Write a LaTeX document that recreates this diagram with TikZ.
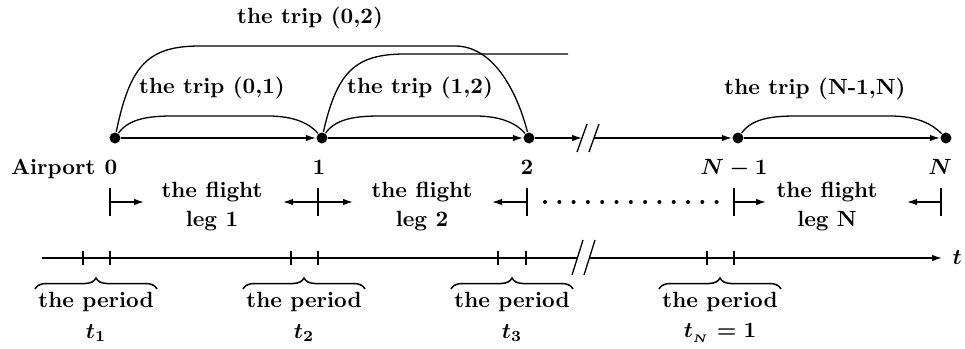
\documentclass[tikz,border=0pt]{standalone}
\usetikzlibrary{decorations.pathreplacing,arrows.meta,calc}
\newcommand{\Tx}[1]{\scalebox{2.2}{\fontsize{10}{13}\selectfont\bfseries\boldmath #1}}
\newcommand{\Tw}[1]{\scalebox{2.2}{\fontsize{10}{13}\selectfont\bfseries\boldmath\begin{tabular}{@{}c@{}}#1\end{tabular}}}
\begin{document}
\begin{tikzpicture}[x=1pt,y=-1pt,
  lbl/.style={inner sep=0pt},
  dotn/.style={circle, fill, inner sep=0pt, minimum size=11pt},
  tip/.style={-{Latex[length=10pt,width=6.5pt]}},
  every path/.style={line width=1.3pt},
  brc/.style={decorate, decoration={brace, amplitude=11pt}, line width=1.5pt},
  tick/.style={line width=1.1pt}]
\useasboundingbox (0,0) rectangle (965,348);
% upper dots
\node[dotn] (d0) at (115,138) {};
\node[dotn] (d1) at (322,138) {};
\node[dotn] (d2) at (529,138) {};
\node[dotn] (dn1) at (738,138) {};
\node[dotn] (dn) at (946,138) {};
\coordinate (ub1) at (582,138);
\coordinate (ub2) at (594,138);
% upper line
\draw[tip] (d0) -- (d1);
\draw[tip] (d1) -- (d2);
\draw[tip] (d2) -- (ub1);
\draw[tip] (ub2) -- (dn1);
\draw[tip] (dn1) -- (dn);
\draw (577,152) -- (587,124);
\draw (589,152) -- (599,124);
% arcs
\draw (d0) .. controls (130,65) and (148,46) .. (200,46) -- (455,46) .. controls (495,46) and (518,95) .. (d2);
\draw (d1) .. controls (337,72) and (355,54) .. (405,54) -- (568,54);
\draw (d0) .. controls (128,120) and (145,116) .. (172,116) -- (268,116) .. controls (295,116) and (310,124) .. (d1);
\draw (d1) .. controls (335,120) and (352,116) .. (379,116) -- (475,116) .. controls (502,116) and (517,124) .. (d2);
\draw (dn1) .. controls (751,120) and (768,116) .. (795,116) -- (890,116) .. controls (917,116) and (932,124) .. (dn);
% trip labels
\node[lbl] (t02) at (310,18) {\Tx{the trip (0,2)}};
\node[lbl] (t01) at (212,88) {\Tx{the trip (0,1)}};
\node[lbl] (t12) at (420,88) {\Tx{the trip (1,2)}};
\node[lbl] (tnn) at (815,89) {\Tx{the trip (N-1,N)}};
% airport labels
\node[lbl, anchor=base east] (ap) at (96,174) {\Tx{Airport}};
\node[lbl, anchor=base] (l0) at (111,174) {\Tx{0}};
\node[lbl, anchor=base] (l1) at (319,174) {\Tx{1}};
\node[lbl, anchor=base] (l2) at (527,174) {\Tx{2}};
\node[lbl, anchor=base] (ln1) at (734,174) {\Tx{$N-1$}};
\node[lbl, anchor=base] (ln) at (940,174) {\Tx{$N$}};
% flight legs
\node[lbl] (f1) at (212,206) {\Tw{the flight\\leg 1}};
\node[lbl] (f2) at (422,206) {\Tw{the flight\\leg 2}};
\node[lbl] (fn) at (827,206) {\Tw{the flight\\leg N}};
\coordinate (m0) at (110,202);
\coordinate (m1) at (318,202);
\coordinate (m2) at (527,202);
\coordinate (mn1) at (734,202);
\coordinate (mn) at (941,202);
\foreach \p in {m0,m1,m2,mn1,mn} \draw[tick] ($(\p)+(0,-14)$) -- ($(\p)+(0,14)$);
\draw[tip] (m0) -- ++(34,0);
\draw[tip] (m1) -- ++(-35,0);
\draw[tip] (m1) -- ++(35,0);
\draw[tip] (m2) -- ++(-35,0);
\draw[tip] (mn1) -- ++(32,0);
\draw[tip] (mn) -- ++(-34,0);
\foreach \i in {0,...,12} \fill (545+\i*14.3,202) circle (2pt);
% lower timeline
\coordinate (lstart) at (42,258);
\coordinate (lb1) at (578,258);
\coordinate (lb2) at (590,258);
\coordinate (lend) at (942,258);
\draw (lstart) -- (lb1);
\draw[tip] (lb2) -- (lend);
\draw (572,275) -- (583,240);
\draw (584,275) -- (595,240);
\node[lbl, anchor=west] (tt) at (952,258) {\Tx{$t$}};
\foreach \x in {83,110,291,318,498,526,707,734} \draw[tick] (\x,251) -- (\x,265);
% braces
\foreach \c in {96,304,512,720} {
  \draw[brc] (\c-61,289) -- (\c+61,289);
}
\node[lbl] (p1) at (96,302) {\Tx{the period}};
\node[lbl] (p2) at (304,302) {\Tx{the period}};
\node[lbl] (p3) at (512,302) {\Tx{the period}};
\node[lbl] (pn) at (720,302) {\Tx{the period}};
\node[lbl] (s1) at (96,333) {\Tx{$t_1$}};
\node[lbl] (s2) at (304,333) {\Tx{$t_2$}};
\node[lbl] (s3) at (512,333) {\Tx{$t_3$}};
\node[lbl] (sn) at (720,333) {\Tx{$t_{_N}=1$}};
\end{tikzpicture}
\end{document}
